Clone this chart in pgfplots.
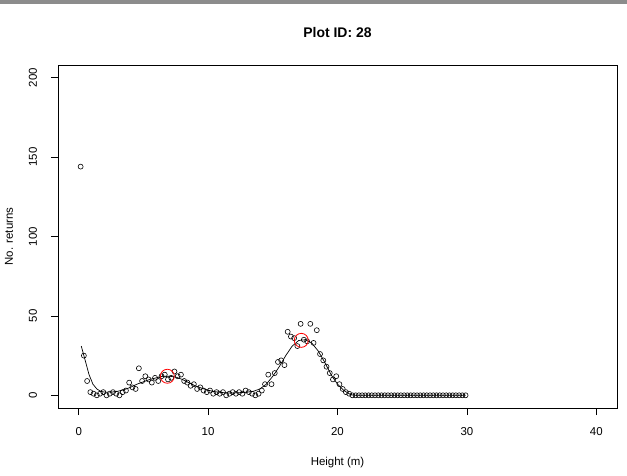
\documentclass[border=0pt]{standalone}
\usepackage{fontspec}
\setmainfont{Liberation Sans}
\usepackage{pgfplots}
\pgfplotsset{compat=1.18}
\usepackage{pgfplotstable}

\pgfplotstableread{
x y
0.15 144
0.40 25
0.65 9
0.90 2
1.15 1
1.40 0
1.65 1
1.90 2
2.15 0
2.40 1
2.65 2
2.90 1
3.15 0
3.40 2
3.65 3
3.90 8
4.15 5
4.40 4
4.65 17
4.90 9
5.15 12
5.40 10
5.65 8
5.90 11
6.15 9
6.40 12
6.65 13
6.90 10
7.15 11
7.40 15
7.65 12
7.90 13
8.15 9
8.40 8
8.65 6
8.90 7
9.15 4
9.40 5
9.65 3
9.90 2
10.15 3
10.40 1
10.65 2
10.90 1
11.15 2
11.40 0
11.65 1
11.90 2
12.15 1
12.40 2
12.65 1
12.90 3
13.15 2
13.40 1
13.65 0
13.90 1
14.15 3
14.40 7
14.65 13
14.90 7
15.15 14
15.40 21
15.65 22
15.90 19
16.15 40
16.40 37
16.65 36
16.90 31
17.15 45
17.40 35
17.65 34
17.90 45
18.15 33
18.40 41
18.65 26
18.90 22
19.15 18
19.40 14
19.65 10
19.90 12
20.15 7
20.40 4
20.65 2
20.90 1
21.15 0
21.40 0
21.65 0
21.90 0
22.15 0
22.40 0
22.65 0
22.90 0
23.15 0
23.40 0
23.65 0
23.90 0
24.15 0
24.40 0
24.65 0
24.90 0
25.15 0
25.40 0
25.65 0
25.90 0
26.15 0
26.40 0
26.65 0
26.90 0
27.15 0
27.40 0
27.65 0
27.90 0
28.15 0
28.40 0
28.65 0
28.90 0
29.15 0
29.40 0
29.65 0
29.90 0
}\returns

\pgfplotstableread{
x y
0.2 31
0.5 22
0.8 13
1.1 7
1.4 4
1.7 2.5
2.0 2
2.5 2
3.0 2.5
3.5 3.5
4.0 5
4.5 7
5.0 8.5
5.5 10
6.0 11
6.5 12
7.0 12
7.5 11.5
8.0 10
8.5 8
9.0 6
9.5 4.5
10.0 3.2
10.5 2.3
11.0 1.8
11.5 1.5
12.0 1.5
12.5 1.7
13.0 2
13.5 2.5
14.0 4
14.5 7
15.0 12
15.5 18
16.0 25
16.5 31
17.0 34.5
17.5 35
18.0 33
18.5 28
19.0 21
19.5 13
20.0 7
20.5 3
21.0 0.5
21.3 0
25.0 0
29.9 0
}\smooth

\pgfplotstableread{
x y
6.85 12
17.2 34.6
}\peaks

\begin{document}
\begin{tikzpicture}
\path[use as bounding box] (-58bp,-68bp) rectangle (569bp,408bp);
\fill[black!45] (-58bp,404bp) rectangle (569bp,408bp);
\begin{axis}[
  scale only axis,
  width=559bp, height=343bp,
  at={(0,0)}, anchor=south west,
  xmin=-1.6, xmax=41.6,
  ymin=-8, ymax=208,
  xtick={0,10,20,30,40},
  ytick={0,50,100,150,200},
  tick align=outside,
  major tick length=7bp,
  axis line style={line width=0.8pt},
  every tick/.style={black, line width=0.6pt},
  xtick pos=bottom, ytick pos=left,
  /pgf/number format/assume math mode=true,
  tick label style={font=\fontsize{11.5}{13}\selectfont},
  xticklabel style={anchor=base, yshift=-20bp},
  yticklabel style={rotate=90, anchor=base, yshift=14bp},
  title={\textbf{Plot ID: 28}},
  title style={font=\fontsize{14}{16}\selectfont, at={(axis description cs:0.5,1)}, anchor=center, yshift=27bp},
  xlabel={Height (m)},
  ylabel={No. returns},
  label style={font=\fontsize{11.5}{13}\selectfont},
  xlabel style={at={(axis description cs:0.5,0)}, anchor=base, yshift=-57bp},
  ylabel style={at={(axis description cs:0,0.5)}, anchor=base, yshift=45bp},
  clip=false,
]
\addplot[black, line width=0.7pt] table {\smooth};
\addplot[only marks, mark=o, mark size=2.5bp, mark options={black, line width=0.6pt}] table {\returns};
\addplot[only marks, mark=o, mark size=7bp, mark options={red, line width=0.8pt}] table {\peaks};
\end{axis}
\end{tikzpicture}
\end{document}
